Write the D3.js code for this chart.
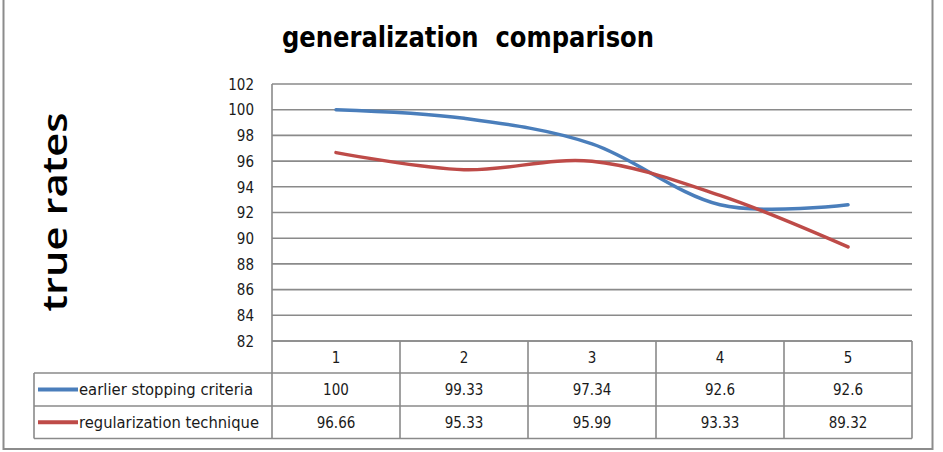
<!DOCTYPE html>
<html><head><meta charset="utf-8">
<script src="https://cdn.jsdelivr.net/npm/d3@7/dist/d3.min.js"></script>
<style>body{margin:0;background:#fff}svg{display:block}text{white-space:pre}</style>
</head><body>
<svg id="c" width="943" height="452"></svg>
<script>
const categories = ["1","2","3","4","5"];
const seriesNames = ["earlier stopping criteria","regularization technique"];
const earlier = [100, 99.33, 97.34, 92.6, 92.6];
const regular = [96.66, 95.33, 95.99, 93.33, 89.32];
const earlierLabels = ["100","99.33","97.34","92.6","92.6"];
const regularLabels = ["96.66","95.33","95.99","93.33","89.32"];
const yTicks = [82,84,86,88,90,92,94,96,98,100,102];
const colors = ["#4a7ebb","#be4b48"];

const svg = d3.select("#c");
const font = "'DejaVu Sans Condensed','Liberation Sans Narrow','Liberation Sans',Arial,sans-serif";
const plotL = 272, plotR = 912, plotT = 84, plotB = 341;
const x = d3.scaleBand().domain(categories).range([plotL, plotR]);
const y = d3.scaleLinear().domain([82,102]).range([plotB, plotT]);

// outer frame
svg.append("rect").attr("x",3.5).attr("y",-2).attr("width",929).attr("height",451)
  .attr("fill","none").attr("stroke","#8c8c8c").attr("stroke-width",2);

// title
svg.append("text").attr("x",468).attr("y",47).attr("text-anchor","middle")
  .attr("font-family",font).attr("font-weight","bold").attr("font-size",28)
  .attr("textLength",372).attr("lengthAdjust","spacingAndGlyphs")
  .text("generalization  comparison");

// y axis title
svg.append("text").attr("transform","translate(67,212) rotate(-90)")
  .attr("text-anchor","middle").attr("font-family","'Open Sans',sans-serif")
  .attr("font-weight",600)
  .attr("font-size",35).attr("textLength",199).attr("lengthAdjust","spacingAndGlyphs")
  .text("true rates");

// gridlines
svg.append("g").selectAll("line").data(yTicks).join("line")
  .attr("x1",plotL).attr("x2",plotR).attr("y1",d=>y(d)).attr("y2",d=>y(d))
  .attr("stroke","#8a8a8a").attr("stroke-width",1.6);
svg.append("line").attr("x1",plotL).attr("x2",plotL).attr("y1",plotT).attr("y2",plotB)
  .attr("stroke","#8a8a8a").attr("stroke-width",1.6);

// y axis labels
const yAxis = d3.axisLeft(y).tickValues(yTicks).tickSize(0).tickPadding(0);
const ga = svg.append("g").attr("transform",`translate(254,0)`).call(yAxis);
ga.select(".domain").remove();
ga.selectAll("text").attr("font-family",font).attr("font-size",15).attr("fill","#1a1a1a").attr("dy","0.35em");

// table
const rowsY = [341, 373, 406, 438.5];
const tableL = 34;
const tg = svg.append("g").attr("stroke","#8a8a8a").attr("stroke-width",1.6).attr("fill","none");
tg.append("line").attr("x1",plotL).attr("x2",plotR).attr("y1",rowsY[0]).attr("y2",rowsY[0]);
[1,2,3].forEach(i=>tg.append("line").attr("x1",tableL).attr("x2",plotR).attr("y1",rowsY[i]).attr("y2",rowsY[i]));
tg.append("line").attr("x1",tableL).attr("x2",tableL).attr("y1",rowsY[1]).attr("y2",rowsY[3]);
categories.forEach(c=>tg.append("line").attr("x1",x(c)).attr("x2",x(c)).attr("y1",rowsY[0]).attr("y2",rowsY[3]));
tg.append("line").attr("x1",plotR).attr("x2",plotR).attr("y1",rowsY[0]).attr("y2",rowsY[3]);

const txt = (xx,yy,t,anchor)=>svg.append("text").attr("x",xx).attr("y",yy)
  .attr("text-anchor",anchor||"middle").attr("dy","0.35em")
  .attr("font-family",font).attr("font-size",15).attr("fill","#1a1a1a").text(t);

categories.forEach(c=>txt(x(c)+x.bandwidth()/2,(rowsY[0]+rowsY[1])/2+1,c));
earlierLabels.forEach((v,i)=>txt(x(categories[i])+x.bandwidth()/2,(rowsY[1]+rowsY[2])/2,v));
regularLabels.forEach((v,i)=>txt(x(categories[i])+x.bandwidth()/2,(rowsY[2]+rowsY[3])/2,v));

[0,1].forEach(i=>{
  const cy = (rowsY[i+1]+rowsY[i+2])/2;
  svg.append("line").attr("x1",38).attr("x2",78).attr("y1",cy).attr("y2",cy)
    .attr("stroke",colors[i]).attr("stroke-width",4);
  txt(79,cy,seriesNames[i],"start").attr("textLength",i===0?174:180).attr("lengthAdjust","spacingAndGlyphs");
});

// lines
const line = d3.line().x((d,i)=>x(categories[i])+x.bandwidth()/2).y(d=>y(d))
  .curve(d3.curveCardinal.tension(0));
[earlier, regular].forEach((s,i)=>{
  svg.append("path").attr("d",line(s)).attr("fill","none")
    .attr("stroke",colors[i]).attr("stroke-width",3.5).attr("stroke-linecap","round");
});
</script>
</body></html>
